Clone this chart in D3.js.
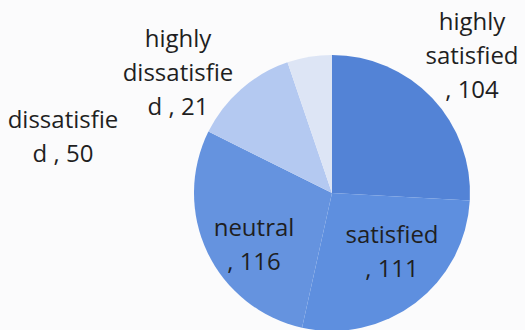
<!DOCTYPE html>
<html>
<head>
<meta charset="utf-8">
<script src="https://cdn.jsdelivr.net/npm/d3@7"></script>
<style>
  html, body { margin: 0; padding: 0; background: #fbfbfc; }
  svg { display: block; }
  text { font-family: "Open Sans", sans-serif; font-size: 24px; fill: #1f1f1f; }
</style>
</head>
<body>
<svg id="chart" width="525" height="330"></svg>
<script>
// Satisfaction survey responses
const categories = ["highly satisfied", "satisfied", "neutral", "dissatisfied", "highly dissatisfied"];
const counts = [104, 111, 116, 50, 21];
const sliceColors = ["#5383d6", "#5e8fdf", "#6593df", "#b4c9f1", "#dde5f5"];

// Label layout: first-line anchor offset from the pie centre and wrap width
const labelLayout = [
  { dx: 140, dy: -163, wrap: 100 },
  { dx: 60, dy: 50, wrap: 100 },
  { dx: -78, dy: 43, wrap: 90 },
  { dx: -269, dy: -65, wrap: 115 },
  { dx: -154, dy: -146, wrap: 115 }
];

const width = 525, height = 330;
const cx = 332, cy = 193, radius = 138;
const lineHeight = 34;

const svg = d3.select("#chart");
const data = categories.map((c, i) => ({ name: c, value: counts[i], i }));

const pie = d3.pie().value(d => d.value).sort(null);
const arc = d3.arc().innerRadius(0).outerRadius(radius);

const g = svg.append("g").attr("transform", `translate(${cx},${cy})`);

g.selectAll("path.slice")
  .data(pie(data))
  .join("path")
  .attr("class", "slice")
  .attr("d", arc)
  .attr("fill", d => sliceColors[d.data.i]);

// Greedy wrap that breaks inside a word when it cannot fit a line by itself
const measurer = svg.append("text").attr("visibility", "hidden");
function textWidth(s) { measurer.text(s); return measurer.node().getComputedTextLength(); }
function wrap(str, maxW) {
  const words = str.split(" ");
  const lines = [];
  let line = "";
  for (let w of words) {
    const trial = line ? line + " " + w : w;
    if (textWidth(trial) <= maxW) { line = trial; continue; }
    if (line) { lines.push(line); line = ""; }
    while (textWidth(w) > maxW) {
      let k = w.length - 1;
      while (k > 1 && textWidth(w.slice(0, k)) > maxW) k--;
      lines.push(w.slice(0, k));
      w = w.slice(k);
    }
    line = w;
  }
  if (line) lines.push(line);
  return lines;
}

const labels = g.selectAll("text.label")
  .data(pie(data))
  .join("text")
  .attr("class", "label")
  .attr("text-anchor", "middle")
  .attr("transform", d => {
    const L = labelLayout[d.data.i];
    return `translate(${L.dx},${L.dy})`;
  });

labels.each(function(d) {
  const L = labelLayout[d.data.i];
  const lines = wrap(`${d.data.name} , ${d.data.value}`, L.wrap);
  d3.select(this).selectAll("tspan")
    .data(lines)
    .join("tspan")
    .attr("x", 0)
    .attr("dy", (t, j) => j === 0 ? 0 : lineHeight)
    .text(t => t);
});
measurer.remove();
</script>
</body>
</html>
